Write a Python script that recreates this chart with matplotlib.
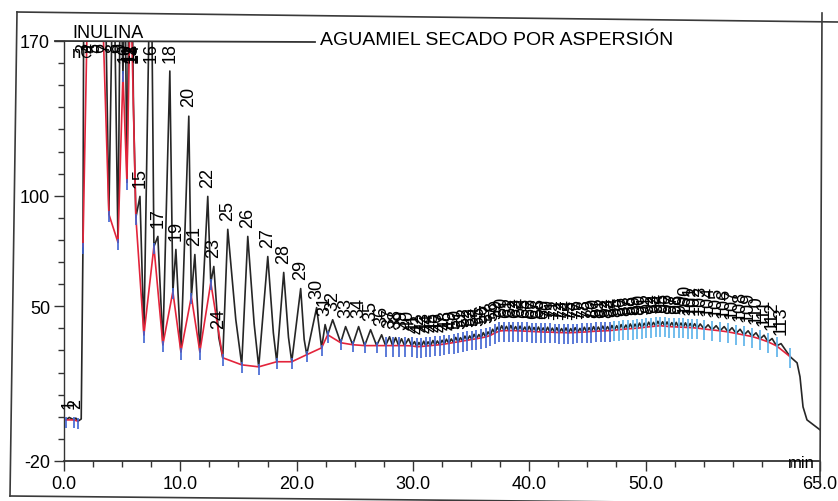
import numpy as np
import matplotlib
matplotlib.use("Agg")
import matplotlib.pyplot as plt
from matplotlib.lines import Line2D

plt.rcParams['font.family'] = ['Liberation Sans', 'DejaVu Sans']
plt.rcParams['font.size'] = 13

W, H = 838, 502

# peak apex positions (retention time in min, signal in nC); peaks are numbered 1..113
peak_time = [
    0.45, 1.02, 1.72, 2.25, 2.65, 3.05, 3.45, 4.25, 4.85, 5.25,
    5.62, 5.74, 5.84, 5.97, 6.53, 7.47, 8.07, 9.10, 9.62, 10.73,
    11.25, 12.36, 12.88, 13.31, 14.08, 15.80, 17.52, 18.89, 20.35, 21.72,
    22.45, 23.10, 24.21, 25.33, 26.36, 27.31, 27.99, 28.51, 29.02, 29.62,
    30.14, 30.52, 30.93, 31.30, 31.72, 32.10, 32.51, 32.88, 33.30, 33.68,
    34.09, 34.47, 34.88, 35.26, 35.67, 36.05, 36.46, 36.85, 37.25, 37.63,
    38.04, 38.42, 38.83, 39.21, 39.62, 40.00, 40.41, 40.79, 41.20, 41.58,
    41.99, 42.37, 42.78, 43.16, 43.57, 43.95, 44.36, 44.74, 45.15, 45.53,
    45.94, 46.32, 46.73, 47.11, 47.52, 47.90, 48.31, 48.69, 49.10, 49.48,
    49.89, 50.27, 50.68, 51.06, 51.47, 51.85, 52.26, 52.64, 53.05, 53.43,
    53.84, 54.22, 54.70, 55.38, 56.07, 56.76, 57.44, 58.13, 58.82, 59.50,
    60.19, 60.88, 61.65,
]
peak_signal = [
    -0.3, -0.6, 235, 240, 235, 240, 230, 220, 205, 200,
    210, 205, 200, 141.5, 99.7, 230, 81.6, 156.4, 75.7, 136.0,
    73.4, 99.7, 68.0, 35.8, 84.8, 81.6, 72.5, 65.3, 58.0, 49.4,
    41.7, 43.9, 40.8, 40.8, 39.4, 37.1, 36.2, 35.8, 35.3, 35.3,
    34.0, 33.6, 34.2, 33.9, 34.5, 34.3, 34.6, 35.1, 35.2, 35.9,
    35.8, 36.5, 36.6, 37.3, 37.2, 38.1, 38.4, 39.6, 40.5, 41.2,
    40.9, 41.3, 40.8, 41.0, 40.6, 40.9, 40.4, 40.6, 40.2, 40.5,
    40.1, 40.3, 39.9, 40.2, 39.9, 40.3, 40.0, 40.5, 40.3, 40.8,
    40.6, 41.0, 40.8, 41.3, 41.2, 41.7, 41.5, 42.0, 41.9, 42.4,
    42.3, 42.8, 42.7, 43.2, 43.0, 42.9, 42.6, 42.7, 42.4, 42.5,
    42.2, 42.1, 42.0, 41.6, 41.2, 40.8, 40.3, 39.6, 38.9, 38.0,
    36.9, 35.4, 33.1,
]

# peak start/end points found by the integration (baseline vertices)
valley_time = [
    0.17, 0.86, 1.20, 1.63, 2.05, 2.45, 2.85, 3.25, 3.86, 4.64,
    5.07, 5.41, 5.68, 5.79, 6.18, 6.87, 7.73, 8.50, 9.36, 10.05,
    10.95, 11.68, 12.62, 13.65, 15.28, 16.74, 18.29, 19.58, 20.87, 22.15,
    22.67, 23.79, 24.82, 25.85, 26.88, 27.65, 28.25, 28.77, 29.28, 29.88,
    30.33, 30.72, 31.11, 31.51, 31.91, 32.30, 32.70, 33.09, 33.49, 33.88,
    34.28, 34.67, 35.07, 35.46, 35.86, 36.25, 36.65, 37.05, 37.44, 37.83,
    38.23, 38.62, 39.02, 39.41, 39.81, 40.20, 40.60, 40.99, 41.39, 41.78,
    42.18, 42.57, 42.97, 43.36, 43.76, 44.15, 44.55, 44.94, 45.34, 45.73,
    46.13, 46.52, 46.92, 47.31, 47.71, 48.10, 48.50, 48.89, 49.29, 49.68,
    50.08, 50.47, 50.87, 51.26, 51.66, 52.05, 52.45, 52.84, 53.24, 53.63,
    54.03, 54.46, 55.04, 55.72, 56.41, 57.10, 57.78, 58.47, 59.16, 59.84,
    60.53, 61.26, 62.43,
]
valley_signal = [
    -1.4, -1.4, -2.0, 77.0, 195, 200, 198, 195, 91.6, 78.9,
    155, 106.1, 185, 182, 90.2, 37.1, 77.0, 32.6, 56.6, 29.4,
    54.4, 29.4, 60.7, 26.7, 23.5, 22.6, 24.9, 24.9, 28.1, 31.2,
    37.1, 33.5, 32.6, 32.2, 32.2, 32.2, 32.2, 32.2, 32.2, 32.1,
    31.7, 31.8, 32.0, 32.2, 32.4, 32.6, 32.9, 33.2, 33.6, 33.9,
    34.3, 34.6, 35.0, 35.3, 35.7, 36.1, 36.8, 37.9, 38.8, 39.0,
    39.0, 39.0, 38.9, 38.8, 38.7, 38.6, 38.5, 38.4, 38.3, 38.3,
    38.2, 38.1, 38.1, 38.0, 38.1, 38.2, 38.3, 38.4, 38.6, 38.7,
    38.8, 38.9, 39.0, 39.2, 39.4, 39.6, 39.8, 39.9, 40.1, 40.3,
    40.6, 40.8, 41.0, 41.2, 41.0, 40.8, 40.7, 40.6, 40.5, 40.4,
    40.3, 40.1, 39.7, 39.3, 38.9, 38.4, 37.7, 37.0, 36.3, 35.2,
    33.9, 32.1, 27.2,
]

# other points on the detector trace: run start, peak tails, wash-out at the end
shape_time = [0.0, 1.48, 14.77, 16.35, 18.0, 19.3, 20.65, 63.03, 63.28, 63.54, 63.88, 65.0]
shape_signal = [-0.8, -1.0, 44.0, 42.0, 38.0, 36.0, 35.0, 24.4, 18.1, 4.5, -1.4, -5.9]

x_major = [0, 10, 20, 30, 40, 50, 65]
x_major_labels = ["0.0", "10.0", "20.0", "30.0", "40.0", "50.0", "65.0"]
y_major = [-20, 50, 100, 170]


def px(x, y):
    # sheet position in pixels -> figure fraction
    return x / W, 1 - y / H


def sheet_line(x0, y0, x1, y1, **kw):
    (a, b), (c, d) = px(x0, y0), px(x1, y1)
    fig.add_artist(Line2D([a, c], [b, d], transform=fig.transFigure, **kw))


fig = plt.figure(figsize=(W / 100, H / 100), dpi=100)
fig.patch.set_facecolor('white')
ax = fig.add_axes([64 / W, 1 - 462 / H, (820 - 64) / W, (462 - 42) / H])
ax.set_facecolor('none')

# detector trace through all points in time order
t_all = np.concatenate([peak_time, valley_time, shape_time])
s_all = np.concatenate([peak_signal, valley_signal, shape_signal])
order = np.argsort(t_all, kind='stable')
ax.plot(t_all[order], s_all[order], color='#262626', lw=1.2, zorder=2)

# baseline drawn under the peaks (the injection blip is its own segment)
vt = np.array(valley_time)
vs = np.array(valley_signal)
for seg in (vt < 1.5, vt > 1.5):
    ax.plot(vt[seg], vs[seg], color='#e3243b', lw=1.2, zorder=3)

# peak start/end ticks
late = vt > 27
lo = np.where(late, vs - 5.0, vs - 3.5)
hi = np.where(late, vs + 4.0, vs + 1.5)
tick_col = np.where(vt > 47, '#5ab2ea', '#3f63d2')
ax.vlines(vt, lo, hi, colors=tick_col, lw=1.2, zorder=4)

# peak numbers, written upward above each apex (tall peaks get theirs at the top)
for n, (t, s) in enumerate(zip(peak_time, peak_signal), start=1):
    if s > 140:
        ax.text(t, 169.5, str(n), rotation=90, ha='center', va='top',
                fontsize=13, zorder=5)
    else:
        ax.annotate(str(n), (t, s), xytext=(0, 7), textcoords='offset points',
                    rotation=90, ha='center', va='bottom', fontsize=13, zorder=5)

ax.set_xlim(0, 65)
ax.set_ylim(-20, 170)
for side in ('top', 'right'):
    ax.spines[side].set_visible(False)
ax.spines['left'].set_linewidth(1.0)
ax.spines['left'].set_color('#333333')
ax.spines['bottom'].set_linewidth(1.3)
ax.spines['bottom'].set_color('#333333')

ax.set_xticks(x_major)
ax.set_xticklabels(x_major_labels)
ax.set_xticks(np.arange(0, 65, 2.5), minor=True)
ax.set_yticks(y_major)
ax.set_yticklabels([str(v) for v in y_major])
ax.set_yticks(np.arange(-20, 171, 10), minor=True)
ax.tick_params(which='major', direction='out', length=7, width=1.0, color='#333333',
               labelsize=13, pad=3)
ax.tick_params(which='minor', direction='out', length=4, width=1.0, color='#333333')

# sheet frame and header
frame = dict(color='#3a3a3a', lw=1.2)
sheet_line(17, 13, 838, 23, **frame)
sheet_line(17, 13, 10, 497, **frame)
sheet_line(10, 497, 838, 505, **frame)
sheet_line(822, 14, 820, 484, **frame)
sheet_line(55, 42, 315, 43, color='#333333', lw=1.3)

fig.text(*px(72, 38), "INULINA", fontsize=13, va='baseline', ha='left')
fig.text(*px(320, 45), "AGUAMIEL SECADO POR ASPERSIÓN", fontsize=14, va='baseline', ha='left')
fig.text(*px(72, 58), "nC", fontsize=12, va='baseline', ha='left')
fig.text(*px(815, 468), "min", fontsize=12, va='baseline', ha='right')

fig.savefig('out.png', dpi=100)
